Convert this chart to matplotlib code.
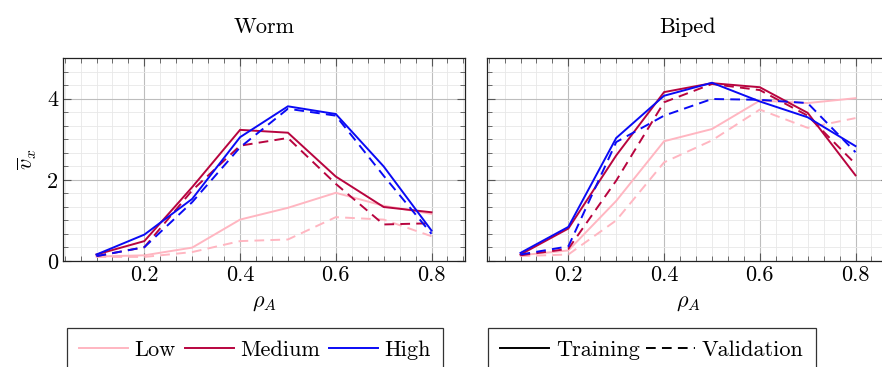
import numpy as np
import matplotlib
matplotlib.use("Agg")
import matplotlib.pyplot as plt
from matplotlib.lines import Line2D
from matplotlib.ticker import MultipleLocator

plt.rcParams['font.family'] = 'cmr10'
plt.rcParams['mathtext.fontset'] = 'cm'
plt.rcParams['axes.formatter.use_mathtext'] = True

rho = [0.1, 0.2, 0.3, 0.4, 0.5, 0.6, 0.7, 0.8]
levels = ["Low", "Medium", "High"]
colors = {"Low": "#FFB6C1", "Medium": "#B8043F", "High": "#0A0AF5"}

worm_train = {
    "Low":    [0.11, 0.14, 0.33, 1.02, 1.31, 1.68, 1.36, 1.16],
    "Medium": [0.16, 0.49, 1.82, 3.23, 3.16, 2.08, 1.33, 1.20],
    "High":   [0.16, 0.65, 1.53, 3.05, 3.81, 3.62, 2.33, 0.75],
}
worm_val = {
    "Low":    [0.10, 0.10, 0.22, 0.49, 0.53, 1.08, 1.02, 0.61],
    "Medium": [0.12, 0.34, 1.74, 2.84, 3.03, 1.90, 0.90, 0.93],
    "High":   [0.12, 0.34, 1.45, 2.80, 3.75, 3.58, 2.10, 0.67],
}
biped_train = {
    "Low":    [0.14, 0.26, 1.48, 2.95, 3.25, 3.95, 3.89, 4.01],
    "Medium": [0.16, 0.80, 2.60, 4.16, 4.38, 4.28, 3.65, 2.11],
    "High":   [0.20, 0.84, 3.03, 4.07, 4.39, 3.93, 3.54, 2.83],
}
biped_val = {
    "Low":    [0.12, 0.16, 1.00, 2.43, 2.97, 3.73, 3.28, 3.52],
    "Medium": [0.14, 0.30, 1.98, 3.91, 4.36, 4.21, 3.58, 2.39],
    "High":   [0.16, 0.36, 2.93, 3.58, 3.99, 3.97, 3.89, 2.68],
}

W, H = 882, 367
fig = plt.figure(figsize=(W / 100, H / 100), dpi=100)
FS = 16
LW = 1.4
DASH = (5.0, 3.2)


def make_ax(x0, x1, y0=58, y1=261):
    return fig.add_axes([x0 / W, 1 - y1 / H, (x1 - x0) / W, (y1 - y0) / H])


ax1 = make_ax(63, 465)
ax2 = make_ax(487, 889)

for ax, title, tr, va in [(ax1, "Worm", worm_train, worm_val),
                          (ax2, "Biped", biped_train, biped_val)]:
    ax.set_xlim(0.03, 0.87)
    ax.set_ylim(0, 5)
    ax.xaxis.set_major_locator(MultipleLocator(0.2))
    ax.xaxis.set_minor_locator(MultipleLocator(0.2 / 6))
    ax.yaxis.set_major_locator(MultipleLocator(2))
    ax.yaxis.set_minor_locator(MultipleLocator(2 / 6))
    ax.grid(which='major', color='#bdbdbd', linewidth=0.8)
    ax.grid(which='minor', color='#e8e8e8', linewidth=0.6)
    ax.set_axisbelow(True)
    ax.tick_params(which='both', direction='in', top=True, right=True,
                   labelsize=FS, color='#555555')
    ax.tick_params(which='major', length=6, width=0.8)
    ax.tick_params(which='minor', length=3.5, width=0.6)
    ax.xaxis.set_major_formatter(plt.FuncFormatter(lambda v, p: f"{v:.1f}"))
    for s in ax.spines.values():
        s.set_linewidth(0.9)
        s.set_color('#222222')
    for lv in levels:
        ax.plot(rho, tr[lv], color=colors[lv], lw=LW, solid_joinstyle='miter')
        ax.plot(rho, va[lv], color=colors[lv], lw=LW, dashes=DASH)
    ax.set_title(title, fontsize=FS, pad=18)
    ax.set_xlabel(r"$\rho_A$", fontsize=FS, labelpad=6)

ax1.set_yticks([0, 2, 4])
ax1.yaxis.set_major_formatter(plt.FuncFormatter(lambda v, p: f"{v:.0f}"))
ax1.set_ylabel(r"$\overline{v}_x$", fontsize=FS, labelpad=6)
ax2.tick_params(labelleft=False)

h1 = [Line2D([], [], color=colors[lv], lw=LW) for lv in levels]
leg1 = fig.legend(h1, levels, loc='upper left',
                  bbox_to_anchor=(67 / W, 1 - 328 / H), ncol=3, fontsize=FS,
                  frameon=True, fancybox=False, edgecolor='black',
                  handlelength=2.2, handletextpad=0.3, columnspacing=0.4,
                  borderpad=0.55, borderaxespad=0)
leg1.get_frame().set_linewidth(0.9)

h2 = [Line2D([], [], color='black', lw=LW),
      Line2D([], [], color='black', lw=LW, dashes=DASH)]
leg2 = fig.legend(h2, ["Training", "Validation"], loc='upper left',
                  bbox_to_anchor=(488 / W, 1 - 328 / H), ncol=2, fontsize=FS,
                  frameon=True, fancybox=False, edgecolor='black',
                  handlelength=2.2, handletextpad=0.3, columnspacing=0.3,
                  borderpad=0.55, borderaxespad=0)
leg2.get_frame().set_linewidth(0.9)

fig.savefig("out.png", dpi=100)
